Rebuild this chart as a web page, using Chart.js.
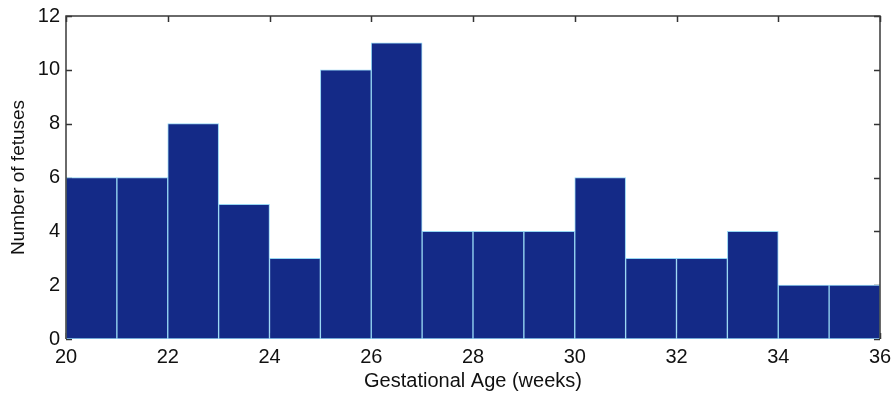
<!DOCTYPE html>
<html>
<head>
<meta charset="utf-8">
<script src="https://cdn.jsdelivr.net/npm/chart.js@4/dist/chart.umd.min.js"></script>
<style>
  html, body { margin: 0; padding: 0; background: #fff; }
  #wrap { width: 891px; height: 393px; }
</style>
</head>
<body>
<div id="wrap"><canvas id="myChart"></canvas></div>
<script>
// histogram bins (left edge of each 1-week bin)
const binStarts = [20, 21, 22, 23, 24, 25, 26, 27, 28, 29, 30, 31, 32, 33, 34, 35];
const fetusCounts = [6, 6, 8, 5, 3, 10, 11, 4, 4, 4, 6, 3, 3, 4, 2, 2];
const xTicks = [20, 22, 24, 26, 28, 30, 32, 34, 36];
const yTicks = [0, 2, 4, 6, 8, 10, 12];

const FONT = "'Liberation Sans', Arial, sans-serif";

//* MATLAB style box with inward ticks
const axesBox = {
  id: "axesBox",
  beforeDatasetsDraw(chart) {
    const { ctx, chartArea: a, scales } = chart;
    ctx.save();
    ctx.strokeStyle = "#333";
    ctx.lineWidth = 1.5;
    ctx.beginPath();
    xTicks.forEach((v) => {
      const px = Math.round(scales.x.getPixelForValue(v)) + 0.5;
      ctx.moveTo(px, a.bottom); ctx.lineTo(px, a.bottom - 6);
      ctx.moveTo(px, a.top); ctx.lineTo(px, a.top + 6);
    });
    yTicks.forEach((v) => {
      const py = Math.round(scales.y.getPixelForValue(v)) + 0.5;
      ctx.moveTo(a.left, py); ctx.lineTo(a.left + 6, py);
      ctx.moveTo(a.right, py); ctx.lineTo(a.right - 6, py);
    });
    ctx.stroke();
    ctx.restore();
  },
  afterDatasetsDraw(chart) {
    const { ctx, chartArea: a } = chart;
    ctx.save();
    ctx.strokeStyle = "#3a3a3a";
    ctx.lineWidth = 1.5;
    ctx.beginPath();
    ctx.moveTo(a.left, a.bottom); ctx.lineTo(a.left, a.top);
    ctx.lineTo(a.right, a.top); ctx.lineTo(a.right, a.bottom);
    ctx.stroke();
    ctx.restore();
  },
};

const ctx = document.querySelector("#myChart").getContext("2d");

const data = {
  datasets: [
    {
      label: "Fetuses",
      data: binStarts.map((b, i) => ({ x: b + 0.5, y: fetusCounts[i] })),
      backgroundColor: "#142a87",
      borderColor: "#96d6f3",
      borderWidth: 1,
      borderSkipped: false,
      barPercentage: 1,
      categoryPercentage: 1,
    },
  ],
};

const config = {
  type: "bar",
  data: data,
  plugins: [axesBox],
  options: {
    responsive: true,
    maintainAspectRatio: false,
    animation: false,
    layout: { padding: { top: 16, right: 11, bottom: 0, left: 7 } },
    plugins: { legend: { display: false }, tooltip: { enabled: false } },
    scales: {
      x: {
        type: "linear",
        min: 20,
        max: 36,
        offset: false,
        grid: { display: false, drawTicks: false },
        border: { display: false },
        ticks: {
          stepSize: 2,
          padding: 6,
          color: "#111",
          font: { family: FONT, size: 20 },
          maxRotation: 0,
        },
        title: {
          display: true,
          text: "Gestational Age (weeks)",
          color: "#111",
          font: { family: FONT, size: 20 },
          padding: 0,
        },
        afterFit: (scale) => {
          scale.height = 393 - 339;
          scale.paddingLeft = 0;
          scale.paddingRight = 0;
        },
      },
      y: {
        min: 0,
        max: 12,
        grid: { display: false, drawTicks: false },
        border: { display: false },
        ticks: {
          stepSize: 2,
          padding: 6,
          color: "#111",
          font: { family: FONT, size: 20 },
        },
        title: {
          display: true,
          text: "Number of fetuses",
          color: "#111",
          font: { family: FONT, size: 19 },
          padding: 0,
        },
        afterFit: (scale) => {
          scale.width = 66 - 7;
          scale.paddingTop = 0;
          scale.paddingBottom = 0;
        },
      },
    },
  },
};

const myChart = new Chart(ctx, config);
</script>
</body>
</html>
